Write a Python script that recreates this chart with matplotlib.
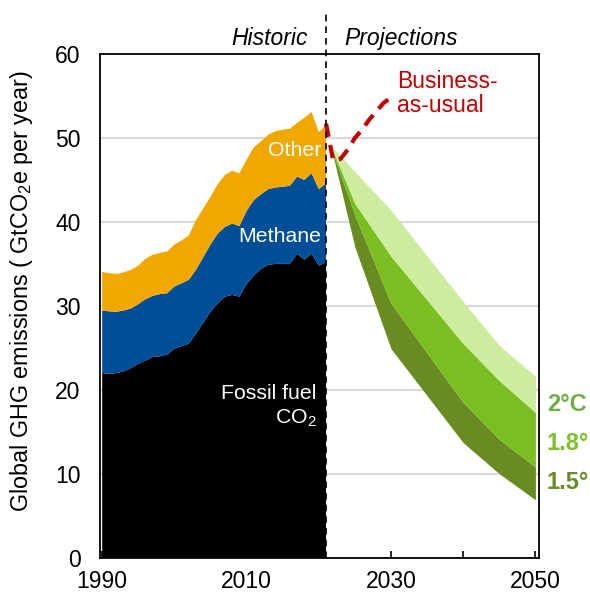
import matplotlib
matplotlib.use("Agg")
import matplotlib.pyplot as plt
import numpy as np

plt.rcParams['font.family'] = ['Liberation Sans', 'DejaVu Sans']
plt.rcParams['mathtext.fontset'] = 'custom'
plt.rcParams['mathtext.rm'] = 'Liberation Sans'
plt.rcParams['mathtext.it'] = 'Liberation Sans:italic'
plt.rcParams['mathtext.bf'] = 'Liberation Sans:bold'

# ---------------- data ----------------
hist_years = list(range(1990, 2022))
fossil_co2 = [22.0, 21.9, 22.0, 22.2, 22.6, 23.1, 23.5, 23.9, 24.0, 24.2,
              24.9, 25.2, 25.5, 26.7, 28.0, 29.3, 30.3, 31.1, 31.3, 31.1,
              32.6, 33.6, 34.4, 34.9, 35.0, 35.0, 35.0, 36.2, 35.5, 36.2,
              34.8, 35.2]
methane = [7.45, 7.45, 7.3, 7.25, 7.1, 7.1, 7.3, 7.3, 7.4, 7.3,
           7.4, 7.5, 7.6, 7.6, 7.8, 8.0, 8.3, 8.3, 8.5, 8.4,
           8.7, 9.0, 8.9, 9.0, 9.1, 9.2, 9.3, 9.2, 9.5, 9.6,
           9.1, 9.4]
other = [4.6, 4.55, 4.5, 4.55, 4.6, 4.6, 4.8, 4.9, 4.9, 5.0,
         5.0, 5.1, 5.3, 5.9, 5.8, 5.7, 5.9, 6.2, 6.3, 6.3,
         6.1, 6.3, 6.3, 6.5, 6.7, 6.8, 6.8, 6.4, 7.4, 7.3,
         6.8, 6.9]

proj_years = [2022, 2025, 2030, 2040, 2045, 2050]
upper_2c = [48.8, 46.0, 41.4, 30.5, 25.3, 21.6]
upper_18 = [48.4, 42.2, 35.9, 25.5, 21.1, 17.3]
upper_15 = [48.1, 40.8, 30.3, 18.5, 14.1, 10.8]
lower_15 = [47.8, 37.0, 24.9, 13.7, 10.0, 6.9]

bau_years = [2021, 2022, 2023, 2024, 2025, 2026, 2027, 2028, 2029, 2030]
bau_values = [51.7, 47.3, 47.5, 48.6, 50.0, 51.0, 52.2, 53.2, 54.2, 54.8]

divider_year = 2021
x_ticks = [1990, 2000, 2010, 2020, 2030, 2040, 2050]
x_ticklabels = ['1990', '', '2010', '', '2030', '', '2050']
y_ticks = [0, 10, 20, 30, 40, 50, 60]

# ---------------- colours ----------------
c_fossil = '#000000'
c_methane = '#004E98'
c_other = '#F0A800'
c_light = '#CCEC9E'
c_mid = '#7BBE22'
c_dark = '#688C22'
c_red = '#C00000'

fig = plt.figure(figsize=(5.9, 5.94), dpi=100)
ax = fig.add_axes([0.1695, 0.0611, 0.9136 - 0.1695, 0.909 - 0.0611])

ax.set_xlim(1989.7, 2050.5)
ax.set_ylim(0, 60)

ax.set_axisbelow(True)
ax.yaxis.grid(True, color='#D9D9D9', linewidth=1.5, zorder=0)

ax.stackplot(hist_years, fossil_co2, methane, other,
             colors=[c_fossil, c_methane, c_other], linewidth=0, zorder=2)

ax.fill_between(proj_years, lower_15, upper_15, color=c_dark, linewidth=0, zorder=2)
ax.fill_between(proj_years, upper_15, upper_18, color=c_mid, linewidth=0, zorder=2)
ax.fill_between(proj_years, upper_18, upper_2c, color=c_light, linewidth=0, zorder=2)

ax.plot(bau_years, bau_values, color=c_red, linewidth=3.0,
        dashes=(3.2, 2.0), dash_capstyle='butt', solid_joinstyle='round', zorder=4)

ax.plot([divider_year, divider_year], [0, 64.8], color='black', linewidth=1.2,
        dashes=(4, 3), clip_on=False, zorder=5)

# ---------------- ticks / labels ----------------
ax.set_xticks(x_ticks)
ax.set_xticklabels(x_ticklabels)
ax.set_yticks(y_ticks)
ax.tick_params(axis='x', direction='in', length=5, width=1.2, pad=9,
               labelsize=16.5, top=False)
ax.tick_params(axis='y', length=0, pad=14, labelsize=16.5)
for s in ax.spines.values():
    s.set_linewidth(1.3)
    s.set_color('black')
    s.set_zorder(6)

ax.set_ylabel(r'Global GHG emissions ( GtCO$_2$e per year)', fontsize=16.8)
ax.yaxis.set_label_coords(-0.148, 0.53)

ax.text(2018.5, 61.9, 'Historic', style='italic', fontsize=16.5, ha='right',
        va='center', clip_on=False)
ax.text(2023.6, 61.9, 'Projections', style='italic', fontsize=16.5, ha='left',
        va='center', clip_on=False)

ax.text(2020.3, 48.5, 'Other', color='white', fontsize=15.3, ha='right', va='center', zorder=6)
ax.text(2020.4, 38.3, 'Methane', color='white', fontsize=15.3, ha='right', va='center', zorder=6)
ax.text(2019.7, 19.6, 'Fossil fuel', color='white', fontsize=15.3, ha='right', va='center', zorder=6)
ax.text(2019.7, 16.6, r'CO$_2$', color='white', fontsize=15.3, ha='right', va='center', zorder=6)

ax.text(2030.8, 56.7, 'Business-', color=c_red, fontsize=16.5, ha='left', va='center', zorder=6)
ax.text(2030.8, 53.9, 'as-usual', color=c_red, fontsize=16.5, ha='left', va='center', zorder=6)

ax.text(2051.6, 18.2, '2°C', color='#70AD47', fontsize=17, fontweight='bold',
        ha='left', va='center', clip_on=False)
ax.text(2051.6, 13.6, '1.8°', color='#7DC22B', fontsize=17, fontweight='bold',
        ha='left', va='center', clip_on=False)
ax.text(2051.6, 9.0, '1.5°', color='#6A8C22', fontsize=17, fontweight='bold',
        ha='left', va='center', clip_on=False)

fig.savefig('out.png', dpi=100)
